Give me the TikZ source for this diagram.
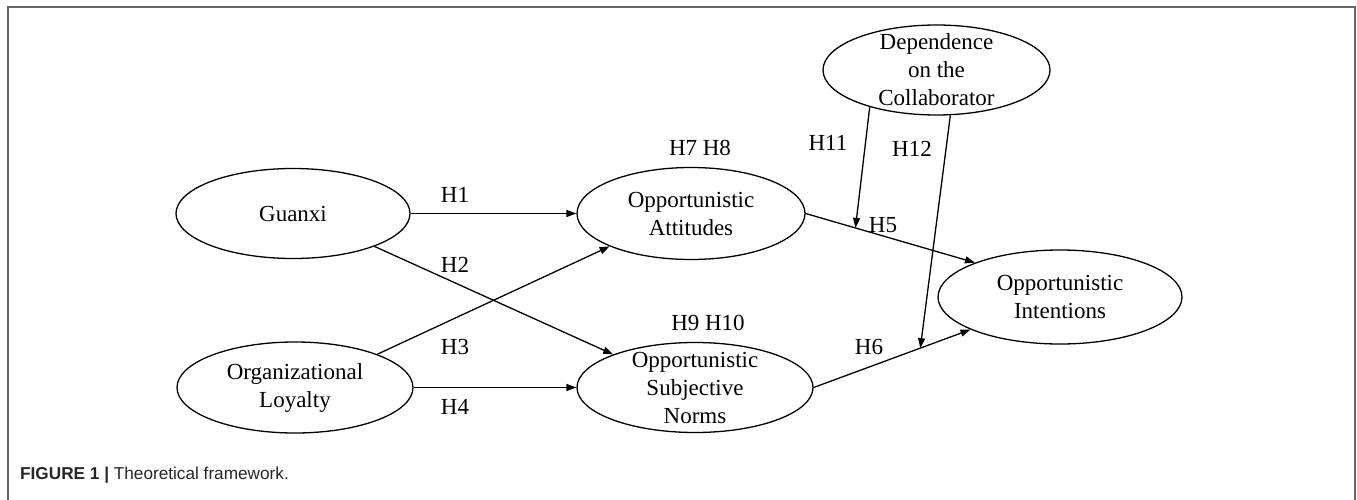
\documentclass[tikz,border=0pt]{standalone}
\usepackage{fontspec}
\setmainfont{Liberation Serif}
\newfontfamily\capfont{Liberation Sans}
\usetikzlibrary{shapes.geometric,arrows.meta}
\begin{document}
\begin{tikzpicture}[x=1pt,y=-1pt,
  ell/.style={draw, ellipse, line width=1.3pt, inner sep=0pt},
  txt/.style={align=center, inner sep=0pt, font=\fontsize{23}{28}\selectfont},
  lab/.style={inner sep=0pt, font=\fontsize{23}{28}\selectfont},
  arr/.style={line width=1.3pt, -{Triangle[length=10pt,width=7pt]}},
  frame/.style={line width=2pt, draw=black!60}]
\useasboundingbox (0,0) rectangle (1357,500);
\path[frame] (8,520) -- (8,7) -- (1355,7) -- (1355,520);

% ellipses
\node[ell, minimum width=234pt, minimum height=90pt] (G) at (293,213.5) {};
\node[txt] (Gt) at (G) {Guanxi};
\node[ell, minimum width=236pt, minimum height=91pt] (O) at (295,387.5) {};
\node[txt] (Ot) at (O) {Organizational\\Loyalty};
\node[ell, minimum width=228pt, minimum height=92pt] (A) at (691,213.5) {};
\node[txt] (At) at (A) {Opportunistic\\Attitudes};
\node[ell, minimum width=236pt, minimum height=90pt] (N) at (695,387.5) {};
\node[txt] (Nt) at (N) {Opportunistic\\Subjective\\Norms};
\node[ell, minimum width=244pt, minimum height=94pt] (I) at (1060,297) {};
\node[txt] (It) at (I) {Opportunistic\\Intentions};
\node[ell, minimum width=227pt, minimum height=90pt] (D) at (936.5,70) {};
\node[txt] (Dt) at (D) {Dependence\\on the\\Collaborator};

% connectors
\draw[arr] (G.east) -- (A.west);
\draw[arr] (G.-22) -- (N.158);
\draw[arr] (O.22) -- (A.202);
\draw[arr] (O.east) -- (N.west);
\draw[arr] (A.east) -- coordinate[pos=0.294] (m1) (I.158);
\draw[arr] (N.east) -- coordinate[pos=0.68] (m2) (I.200);
\draw[arr] (D.209) -- (m1);
\draw[arr] (D.-73) -- (m2);

% labels
\node[lab] (h1) at (455,195) {H1};
\node[lab] (h2) at (455,265) {H2};
\node[lab] (h3) at (455,347) {H3};
\node[lab] (h4) at (455,407) {H4};
\node[lab] (h5) at (883,225) {H5};
\node[lab] (h6) at (869,347) {H6};
\node[lab] (h78) at (700,148) {H7 H8};
\node[lab] (h910) at (708,323) {H9 H10};
\node[lab] (h11) at (828,143) {H11};
\node[lab] (h12) at (912,149) {H12};

% caption
\node[anchor=base west, inner sep=0pt, text=black!85,
      font=\capfont\fontsize{17.2}{20}\selectfont] (cap) at (20,479.5)
  {\textbf{FIGURE 1 |} Theoretical framework.};
\end{tikzpicture}
\end{document}
